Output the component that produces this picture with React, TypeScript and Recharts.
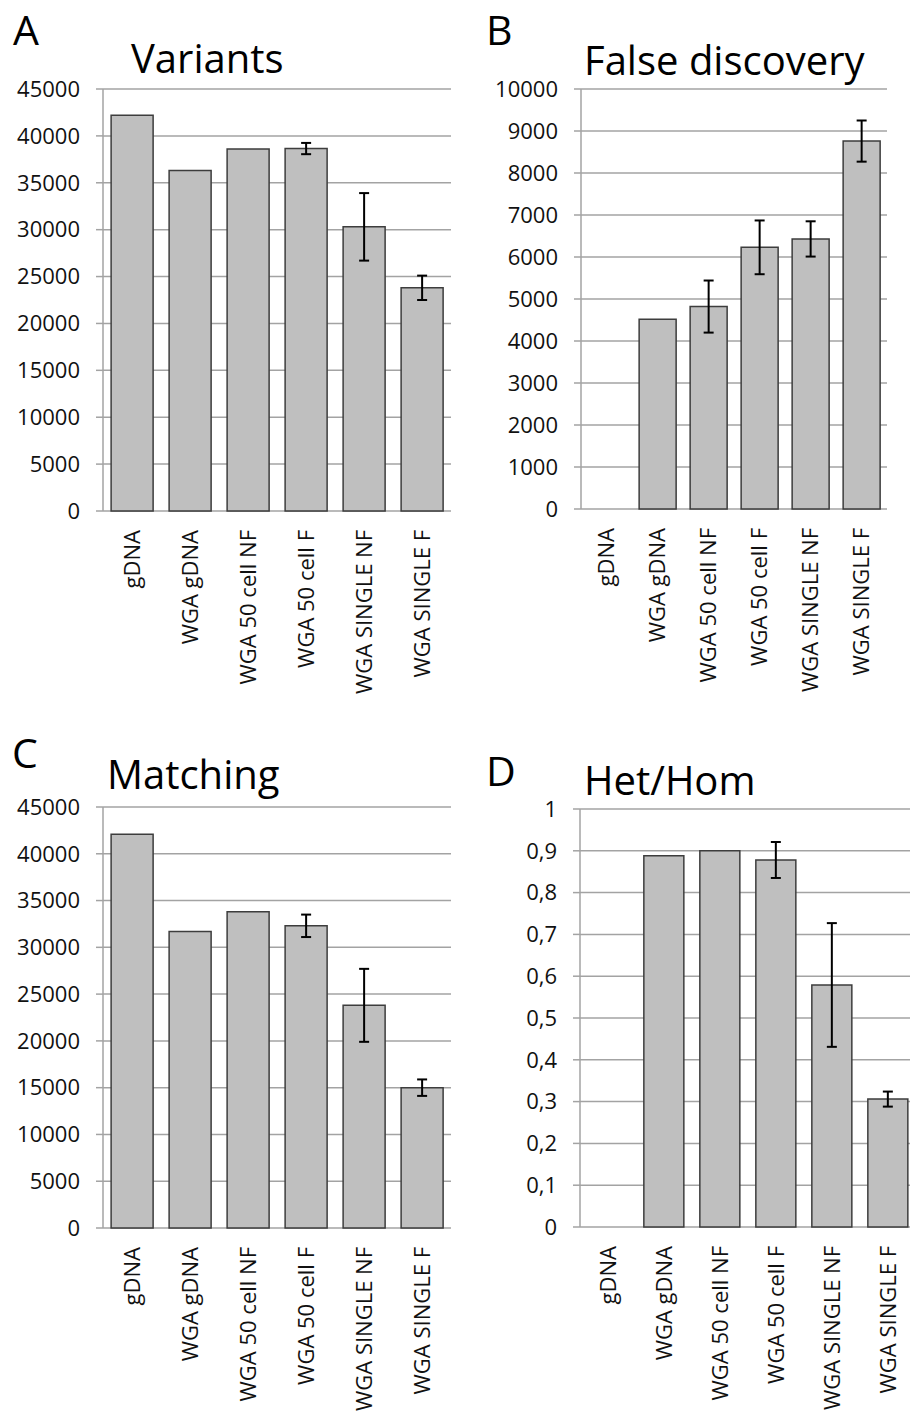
import { BarChart, Bar, XAxis, YAxis, CartesianGrid, ErrorBar } from 'recharts';

const categories = ['gDNA', 'WGA gDNA', 'WGA 50 cell NF', 'WGA 50 cell F', 'WGA SINGLE NF', 'WGA SINGLE F'];

const variantsValues = [42200, 36300, 38600, 38650, 30300, 23800];
const variantsErrors = [null, null, null, 600, 3600, 1300];

const falseDiscValues = [null, 4520, 4820, 6230, 6430, 8760];
const falseDiscErrors = [null, null, 620, 640, 420, 490];

const matchingValues = [42100, 31700, 33800, 32300, 23800, 15000];
const matchingErrors = [null, null, null, 1200, 3900, 880];

const hetHomValues = [null, 0.888, 0.9, 0.878, 0.579, 0.306];
const hetHomErrors = [null, null, null, 0.043, 0.148, 0.018];

const countTicks = [0, 5000, 10000, 15000, 20000, 25000, 30000, 35000, 40000, 45000];
const fdTicks = [0, 1000, 2000, 3000, 4000, 5000, 6000, 7000, 8000, 9000, 10000];
const ratioTicks = [0, 0.1, 0.2, 0.3, 0.4, 0.5, 0.6, 0.7, 0.8, 0.9, 1];
const bandEdges = [0, 1, 2, 3, 4, 5, 6];

const FONT = '"Open Sans", sans-serif';
const GRID = '#a3a3a3';

function buildRows(values: (number | null)[], errors: (number | null)[]) {
  return categories.map((name, i) => ({ name, value: values[i], err: errors[i] }));
}

// rotated category labels, reading bottom to top
function CategoryTick(props: any) {
  const { x, y, payload } = props;
  return (
    <g transform={`translate(${x},${y})`}>
      <text
        x={0}
        y={0}
        dy="0.35em"
        textAnchor="end"
        transform="rotate(-90)"
        fill="#111"
        fontSize={22}
        fontFamily={FONT}
      >
        {payload.value}
      </text>
    </g>
  );
}

const commaFormat = (v: number) => String(Math.round(v * 10) / 10).replace('.', ',');

interface PanelProps {
  values: (number | null)[];
  errors: (number | null)[];
  ticks: number[];
  width: number;
  height: number;
  margin: { top: number; right: number; bottom: number; left: number };
  yWidth: number;
  xHeight: number;
  format?: (v: number) => string;
}

function Panel({ values, errors, ticks, width, height, margin, yWidth, xHeight, format }: PanelProps) {
  const rows = buildRows(values, errors);
  return (
    <BarChart width={width} height={height} data={rows} margin={margin} barCategoryGap="14%">
      <XAxis
        xAxisId="edge"
        type="number"
        domain={[0, 6]}
        ticks={bandEdges}
        tick={false}
        height={0}
        tickSize={7}
        axisLine={{ stroke: GRID, strokeWidth: 1.5 }}
        tickLine={{ stroke: GRID, strokeWidth: 1.5 }}
      />
      <XAxis
        xAxisId="cat"
        dataKey="name"
        interval={0}
        height={xHeight}
        axisLine={false}
        tickLine={false}
        tickMargin={13}
        tick={<CategoryTick />}
      />
      <YAxis
        domain={[ticks[0], ticks[ticks.length - 1]]}
        ticks={ticks}
        width={yWidth}
        tickSize={7}
        tickMargin={16}
        tickFormatter={format}
        axisLine={{ stroke: GRID, strokeWidth: 1.5 }}
        tickLine={{ stroke: GRID, strokeWidth: 1.5 }}
        tick={{ fill: '#111', fontSize: 22, fontFamily: FONT }}
      />
      <CartesianGrid xAxisId="cat" vertical={false} stroke={GRID} strokeWidth={1.5} />
      <Bar
        xAxisId="cat"
        dataKey="value"
        fill="#bfbfbf"
        stroke="#3d3d3d"
        strokeWidth={1.5}
        isAnimationActive={false}
      >
        <ErrorBar dataKey="err" width={5} stroke="#000" strokeWidth={2} direction="y" />
      </Bar>
    </BarChart>
  );
}

function Caption({ text, left, top, size }: { text: string; left: number; top: number; size: number }) {
  return (
    <div
      style={{
        position: 'absolute',
        left,
        top,
        fontSize: size,
        lineHeight: 'normal',
        fontFamily: FONT,
        color: '#000',
        whiteSpace: 'nowrap',
      }}
    >
      {text}
    </div>
  );
}

export default function App() {
  return (
    <div
      style={{
        position: 'absolute',
        left: 0,
        top: 0,
        width: 910,
        height: 1412,
        background: '#fff',
        overflow: 'hidden',
      }}
    >
      <div style={{ position: 'absolute', left: 0, top: 0 }}>
        <Panel
          values={variantsValues}
          errors={variantsErrors}
          ticks={countTicks}
          width={460}
          height={700}
          margin={{ top: 89, right: 9, bottom: 9, left: 0 }}
          yWidth={103}
          xHeight={180}
        />
      </div>
      <div style={{ position: 'absolute', left: 455, top: 0 }}>
        <Panel
          values={falseDiscValues}
          errors={falseDiscErrors}
          ticks={fdTicks}
          width={455}
          height={700}
          margin={{ top: 89, right: 23, bottom: 11, left: 0 }}
          yWidth={126}
          xHeight={180}
        />
      </div>
      <div style={{ position: 'absolute', left: 0, top: 700 }}>
        <Panel
          values={matchingValues}
          errors={matchingErrors}
          ticks={countTicks}
          width={460}
          height={712}
          margin={{ top: 107, right: 9, bottom: 4, left: 0 }}
          yWidth={103}
          xHeight={180}
        />
      </div>
      <div style={{ position: 'absolute', left: 455, top: 700 }}>
        <Panel
          values={hetHomValues}
          errors={hetHomErrors}
          ticks={ratioTicks}
          width={470}
          height={712}
          margin={{ top: 109, right: 9, bottom: 5, left: 0 }}
          yWidth={125}
          xHeight={180}
          format={commaFormat}
        />
      </div>

      <Caption text="A" left={13} top={1} size={41} />
      <Caption text="Variants" left={131} top={30} size={40} />
      <Caption text="B" left={486} top={1} size={41} />
      <Caption text="False discovery" left={584} top={32} size={40} />
      <Caption text="C" left={12} top={724} size={41} />
      <Caption text="Matching" left={107} top={746} size={40} />
      <Caption text="D" left={486} top={742} size={41} />
      <Caption text="Het/Hom" left={584} top={752} size={40} />
    </div>
  );
}
